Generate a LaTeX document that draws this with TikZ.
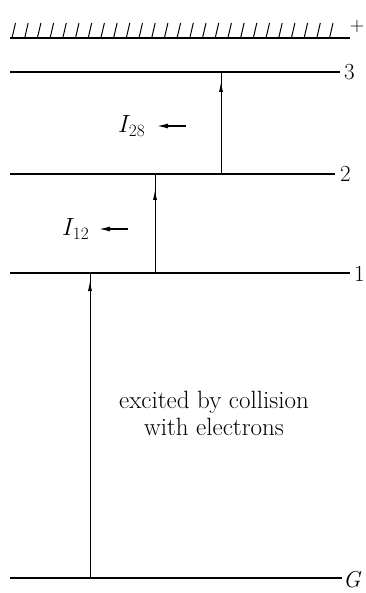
\documentclass[tikz,border=0pt]{standalone}
\usetikzlibrary{arrows.meta}
\begin{document}
\begin{tikzpicture}[x=1pt,y=-1pt,
  level/.style={line width=1.9pt},
  trans/.style={line width=0.9pt},
  uptip/.style={-{Latex[length=10pt,width=4pt]}},
  lefttip/.style={line width=1.3pt,-{Latex[length=11pt,width=5pt]}},
  lbl/.style={font=\fontsize{23}{26}\selectfont, anchor=west, inner sep=0pt},
  txt/.style={font=\fontsize{25}{27}\selectfont, align=center, inner sep=0pt}]
\useasboundingbox (0,0) rectangle (365,593);
% ground (anode) hatched line
\coordinate (hL) at (10,38); \coordinate (hR) at (350,38);
\draw[level] (hL) -- (hR);
\foreach \i in {0,...,25} \draw[line width=1pt] (12+\i*12.7,38) -- (15.5+\i*12.7,23);
\node[font=\fontsize{20}{22}\selectfont, inner sep=0pt, anchor=base] (plus) at (357,32) {+};
% levels
\coordinate (l3L) at (10,72);  \coordinate (l3R) at (340,72);
\coordinate (l2L) at (10,174); \coordinate (l2R) at (335,174);
\coordinate (l1L) at (10,273); \coordinate (l1R) at (350,273);
\coordinate (gL)  at (10,578); \coordinate (gR)  at (342,578);
\draw[level] (l3L) -- (l3R);
\draw[level] (l2L) -- (l2R);
\draw[level] (l1L) -- (l1R);
\draw[level] (gL) -- (gR);
\node[lbl] (n3) at (344,72) {3};
\node[lbl] (n2) at (340,174) {2};
\node[lbl] (n1) at (354,274) {1};
\node[lbl] (nG) at (343,580) {\itshape G};
% transitions
\coordinate (a1b) at (90,578);  \coordinate (a1t) at (90,273);  \coordinate (a1h) at (90,281);
\coordinate (a2b) at (155,273); \coordinate (a2t) at (155,174); \coordinate (a2h) at (155,190);
\coordinate (a3b) at (221,174); \coordinate (a3t) at (221,72);  \coordinate (a3h) at (221,82);
\draw[trans] (a1b) -- (a1t); \draw[trans,uptip] (a1b) -- (a1h);
\draw[trans] (a2b) -- (a2t); \draw[trans,uptip] (a2b) -- (a2h);
\draw[trans] (a3b) -- (a3t); \draw[trans,uptip] (a3b) -- (a3h);
% current labels
\node[lbl] (i28) at (118,126) {$I_{28}$};
\coordinate (i28s) at (186,126); \coordinate (i28e) at (157,126);
\draw[lefttip] (i28s) -- (i28e);
\node[lbl] (i12) at (62,229) {$I_{12}$};
\coordinate (i12s) at (128,229); \coordinate (i12e) at (99,229);
\draw[lefttip] (i12s) -- (i12e);
% text
\node[txt] (exc) at (214,413) {excited by collision\\with electrons};
\end{tikzpicture}
\end{document}
